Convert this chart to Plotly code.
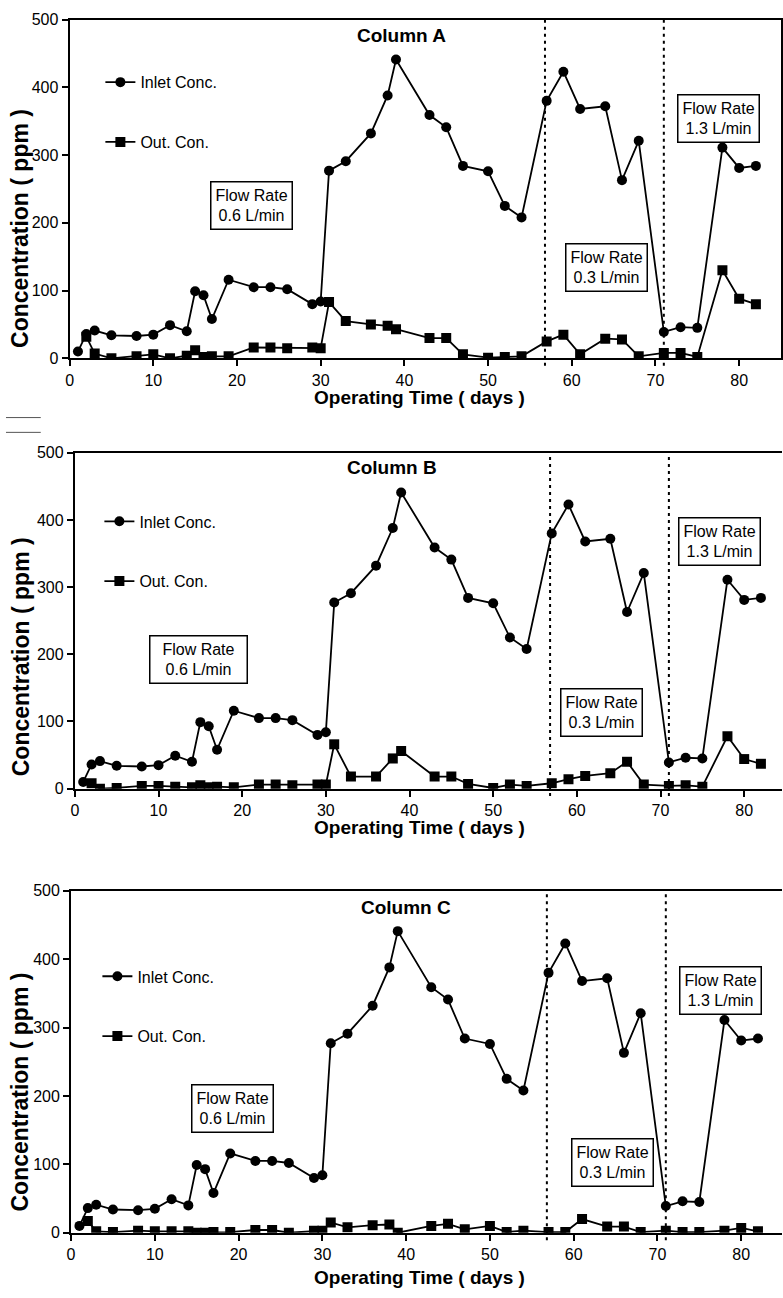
import plotly.graph_objects as go

# ---------------- data ----------------
days = [1, 2, 3, 5, 8, 10, 12, 14, 15, 16, 17, 19, 22, 24, 26, 29, 30, 31, 33, 36,
        38, 39, 43, 45, 47, 50, 52, 54, 57, 59, 61, 64, 66, 68, 71, 73, 75, 78, 80, 82]
inlet = [10, 36, 41, 34, 33, 35, 49, 40, 99, 93, 58, 116, 105, 105, 102, 80, 84, 277, 291, 332,
         388, 441, 359, 341, 284, 276, 225, 208, 380, 423, 368, 372, 263, 321, 39, 46, 45, 311, 281, 284]
out_days = days[1:]
out_a = [32, 7, 0, 3, 6, 0, 4, 12, 2, 3, 3, 16, 16, 15, 16, 15, 83, 55, 50, 48,
         43, 30, 30, 6, 1, 2, 3, 25, 35, 6, 29, 28, 3, 8, 8, 2, 130, 88, 80]
out_b = [8, 0, 1, 4, 4, 3, 2, 5, 2, 3, 2, 6, 6, 5, 6, 6, 66, 18, 18, 45,
         56, 18, 18, 7, 1, 6, 4, 8, 14, 19, 23, 40, 6, 4, 5, 3, 78, 44, 37]
out_c = [17, 2, 1, 3, 2, 2, 2, 0, 0, 1, 1, 4, 4, 0, 3, 3, 15, 8, 11, 12,
         0, 10, 13, 5, 10, 1, 3, 1, 1, 20, 9, 9, 1, 3, 1, 1, 3, 7, 2]
columns = ["Column A", "Column B", "Column C"]
outs = [out_a, out_b, out_c]
flow_labels = ["Flow Rate<br>0.6 L/min", "Flow Rate<br>0.3 L/min", "Flow Rate<br>1.3 L/min"]
change_days = [56.8, 71]
y_ticks = [0, 100, 200, 300, 400, 500]
x_ticks = [0, 10, 20, 30, 40, 50, 60, 70, 80]

W, H = 783, 1298
FONT = "Liberation Sans, Arial, sans-serif"

def px(x):
    return x / W

def py(y):
    return 1 - y / H

# panel geometry (pixels)
panels = [
    dict(x0=66, x1=782, yb=355, yt=11.7, xmax=85.0, right=True,
         title=(39.6, 476), boxes=[(21.7, 226), (64.2, 134), (77.5, 354)],
         box_w=[None, None, None],
         legend=(97, 58), ytitle=(16, 223), xtitle=395),
    dict(x0=71.3, x1=783, yb=791, yt=450.7, xmax=84.52, right=False,
         title=(37.9, 478), boxes=[(14.8, 192), (63.0, 114), (77.0, 368)],
         box_w=[88, None, None],
         legend=(96, 503), ytitle=(18, 657), xtitle=830),
    dict(x0=67.5, x1=783, yb=1241, yt=894.5, xmax=84.87, right=False,
         title=(40.0, 475), boxes=[(19.3, 181), (64.6, 102), (77.5, 354)],
         box_w=[None, None, None],
         legend=(94, 964), ytitle=(16, 1098), xtitle=1286),
]

fig = go.Figure()
layout = dict(
    width=W, height=H, margin=dict(l=0, r=0, t=0, b=0),
    paper_bgcolor="white", plot_bgcolor="white",
    font=dict(family=FONT, size=16, color="black"),
    showlegend=True, annotations=[], shapes=[],
)

for i, p in enumerate(panels):
    n = "" if i == 0 else str(i + 1)
    xa, ya = "x" + n, "y" + n
    leg = "legend" + n
    fig.add_trace(go.Scatter(
        x=days, y=inlet, mode="lines+markers", name="Inlet Conc.",
        xaxis=xa, yaxis=ya, legend=leg, legendgroup="in" + n,
        line=dict(color="black", width=1.8),
        marker=dict(symbol="circle", size=10, color="black")))
    fig.add_trace(go.Scatter(
        x=out_days, y=outs[i], mode="lines+markers", name="Out. Con.",
        xaxis=xa, yaxis=ya, legend=leg, legendgroup="out" + n,
        line=dict(color="black", width=1.8),
        marker=dict(symbol="square", size=10, color="black")))

    layout["xaxis" + n] = dict(
        domain=[px(p["x0"]), min(1, px(p["x1"]))], range=[0, p["xmax"]],
        anchor=ya, tickvals=x_ticks, ticks="outside", ticklen=6, tickwidth=1.5,
        tickcolor="black", showline=True, linecolor="black", linewidth=2,
        mirror=True, showgrid=False, zeroline=False,
        tickfont=dict(family=FONT, size=16, color="black"))
    layout["yaxis" + n] = dict(
        domain=[py(p["yb"]), py(p["yt"])], range=[0, 500],
        anchor=xa, tickvals=y_ticks, ticks="outside", ticklen=6, tickwidth=1.5,
        tickcolor="black", showline=True, linecolor="black", linewidth=2,
        mirror=p["right"], showgrid=False, zeroline=False,
        tickfont=dict(family=FONT, size=16, color="black"))
    layout[leg] = dict(
        x=px(p["legend"][0]), y=py(p["legend"][1]), xanchor="left", yanchor="top",
        bgcolor="rgba(0,0,0,0)", borderwidth=0, tracegroupgap=36,
        font=dict(family=FONT, size=16, color="black"))

    # column title
    layout["annotations"].append(dict(
        x=p["title"][0], y=p["title"][1], xref=xa, yref=ya, text="<b>" + columns[i] + "</b>",
        xanchor="center", yanchor="middle",
        showarrow=False, font=dict(family=FONT, size=19, color="black")))
    # flow-rate boxes
    for (bx, by), lab, bw in zip(p["boxes"], flow_labels, p["box_w"]):
        ann = dict(
            x=bx, y=by, xref=xa, yref=ya, text=lab, showarrow=False,
            xanchor="center", yanchor="middle",
            font=dict(family=FONT, size=16, color="black"), align="center",
            bordercolor="black", borderwidth=1.5, borderpad=4, bgcolor="white")
        if bw:
            ann["width"] = bw
        layout["annotations"].append(ann)
    # axis titles
    layout["annotations"].append(dict(
        x=px(418), y=py(p["xtitle"]), xref="paper", yref="paper",
        xanchor="center", yanchor="middle",
        text="<b>Operating Time ( days )</b>", showarrow=False,
        font=dict(family=FONT, size=19, color="black")))
    layout["annotations"].append(dict(
        x=px(p["ytitle"][0]), y=py(p["ytitle"][1]), xref="paper", yref="paper",
        xanchor="center", yanchor="middle",
        text="<b>Concentration ( ppm )</b>", textangle=-90, showarrow=False,
        font=dict(family=FONT, size=23, color="black")))
    # dotted flow-change lines
    for d in change_days:
        layout["shapes"].append(dict(
            type="line", x0=d, x1=d, xref=xa, y0=-0.022, y1=1.0, yref=ya + " domain",
            line=dict(color="black", width=2, dash="3px,4px")))

# small stray marks between panels A and B
for yy in (415, 430):
    layout["shapes"].append(dict(
        type="line", xref="paper", yref="paper", x0=px(2), x1=px(37), y0=py(yy), y1=py(yy),
        line=dict(color="#555555", width=1)))

fig.update_layout(**layout)
fig.write_html(
    "out.html",
    config={"displayModeBar": False},
    post_script="document.body.style.margin='0';document.body.style.overflow='hidden';",
)
